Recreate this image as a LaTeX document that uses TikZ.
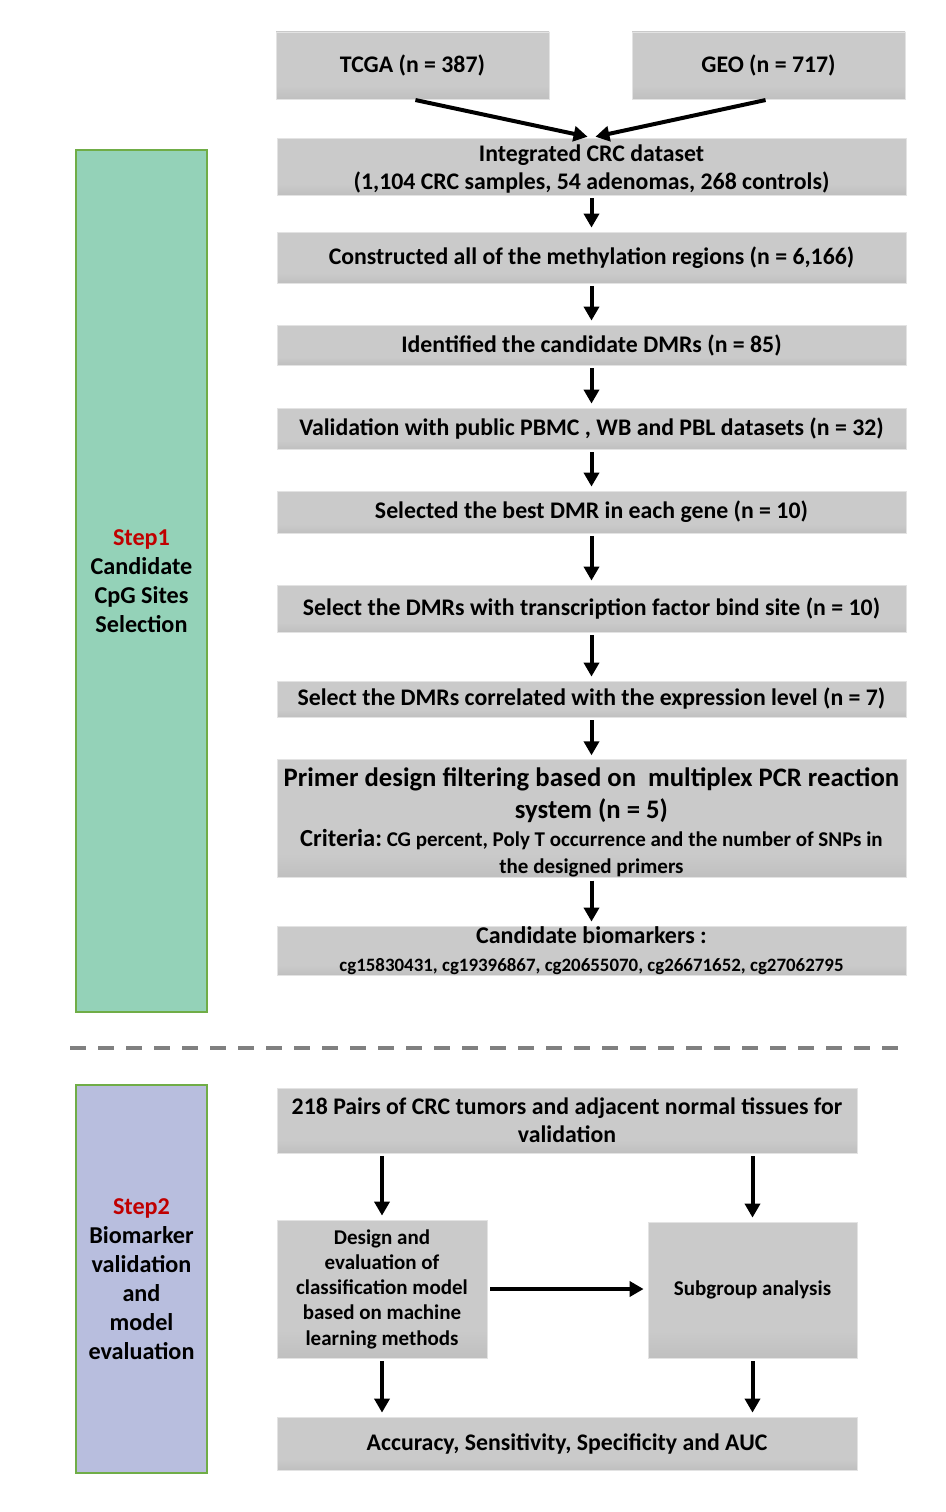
\documentclass[tikz,border=0pt]{standalone}
\usepackage{fontspec}
\setmainfont{Carlito}
\usetikzlibrary{arrows.meta}
\definecolor{gA}{HTML}{CACACA}
\definecolor{gB}{HTML}{BABABA}
\definecolor{gD}{HTML}{9E9E9E}
\definecolor{stepgreen}{HTML}{94D2B8}
\definecolor{steppurple}{HTML}{B8BEDE}
\definecolor{stepborder}{HTML}{70AD47}
\definecolor{stepred}{HTML}{C00000}
\definecolor{dashgray}{HTML}{808080}
\pgfdeclareverticalshading{boxshade}{100bp}{color(0bp)=(gD); color(6bp)=(gD); color(20bp)=(gB); color(35bp)=(gA); color(100bp)=(gA)}
\tikzset{
  box/.style={shading=boxshade, draw=gray!22, line width=0.8pt, inner sep=0pt, align=center, font=\bfseries\fontsize{23.8}{28}\selectfont},
  stepbox/.style={draw=stepborder, line width=1.2pt, inner sep=0pt, align=center, font=\bfseries\fontsize{24.2}{29}\selectfont},
  arr/.style={line width=4pt, -{Triangle[length=14pt,width=15pt]}, shorten >=4pt, shorten <=3pt},
}
\begin{document}
\begin{tikzpicture}[x=1pt,y=-1pt]
\useasboundingbox (0,0) rectangle (945,1512);
% step boxes
\node[stepbox, fill=stepgreen, minimum width=131, minimum height=862] (s1) at (141.5,581) {\textcolor{stepred}{Step1}\\Candidate\\CpG Sites\\Selection};
\node[stepbox, fill=steppurple, minimum width=131, minimum height=388] (s2) at (141.5,1279) {\textcolor{stepred}{Step2}\\Biomarker\\validation\\and\\model\\evaluation};
% top
\node[box, minimum width=273, minimum height=67] (tcga) at (412.5,65.5) {TCGA (n = 387)};
\node[box, minimum width=273, minimum height=67] (geo) at (768.5,65.5) {GEO (n = 717)};
\node[box, minimum width=629, minimum height=57] (int) at (591.5,166.5) {\rule{0pt}{22pt}Integrated CRC dataset\\(1,104 CRC samples, 54 adenomas, 268 controls)};
\node[box, minimum width=629, minimum height=51] (con) at (591.5,257.5) {Constructed all of the methylation regions (n = 6,166)};
\node[box, minimum width=629, minimum height=40] (ide) at (591.5,345) {Identified the candidate DMRs (n = 85)};
\node[box, minimum width=629, minimum height=41] (val) at (591.5,428.5) {Validation with public PBMC , WB and PBL datasets (n = 32)};
\node[box, minimum width=629, minimum height=42] (sel) at (591.5,512) {Selected the best DMR in each gene (n = 10)};
\node[box, minimum width=629, minimum height=47] (tf) at (591.5,608.5) {Select the DMRs with transcription factor bind site (n = 10)};
\node[box, minimum width=629, minimum height=36] (cor) at (591.5,699) {Select the DMRs correlated with the expression level (n = 7)};
\node[box, minimum width=629, minimum height=117] (pri) at (591.5,818.5) {\fontsize{26.7}{32}\selectfont\rule{0pt}{27pt}Primer design filtering based on\ \ multiplex PCR reaction\\[4pt]\fontsize{26.7}{32}\selectfont system (n = 5)\\[0pt]\fontsize{24.5}{30}\selectfont Criteria:\fontsize{21}{30}\selectfont\ CG percent, Poly T occurrence and the number of SNPs in\\[-1pt]\fontsize{21}{27}\selectfont the designed primers};
\node[box, minimum width=629, minimum height=49] (can) at (591.5,950.5) {\fontsize{24}{25}\selectfont Candidate biomarkers :\\\fontsize{18.9}{25}\selectfont cg15830431, cg19396867, cg20655070, cg26671652, cg27062795};
% connectors top
\draw[arr] (tcga.south) -- (int.north);
\draw[arr] (geo.south) -- (int.north);
\draw[arr] (int) -- (con);
\draw[arr] (con) -- (ide);
\draw[arr] (ide) -- (val);
\draw[arr] (val) -- (sel);
\draw[arr] (sel) -- (tf);
\draw[arr] (tf) -- (cor);
\draw[arr] (cor) -- (pri);
\draw[arr] (pri) -- (can);
% dashed separator
\coordinate (dl) at (70,1048);
\coordinate (dr) at (900,1048);
\draw[dashgray, line width=4pt, dash pattern=on 16pt off 12pt] (dl) -- (dr);
% bottom
\node[box, minimum width=580, minimum height=65] (pai) at (567,1120.5) {218 Pairs of CRC tumors and adjacent normal tissues for\\validation};
\node[box, minimum width=210, minimum height=138, font=\bfseries\fontsize{21}{25.3}\selectfont] (des) at (382,1289) {Design and\\evaluation of\\classification model\\based on machine\\learning methods};
\node[box, minimum width=209, minimum height=136, font=\bfseries\fontsize{21}{25}\selectfont] (sub) at (752.5,1290) {Subgroup analysis};
\node[box, minimum width=580, minimum height=53] (acc) at (567,1443.5) {Accuracy, Sensitivity, Specificity and AUC};
\draw[arr] (pai.south -| des.north) -- (des.north);
\draw[arr] (pai.south -| sub.north) -- (sub.north);
\draw[arr] (des.east) -- (sub.west |- des.east);
\draw[arr] (des.south) -- (acc.north -| des.south);
\draw[arr] (sub.south) -- (acc.north -| sub.south);
\end{tikzpicture}
\end{document}
